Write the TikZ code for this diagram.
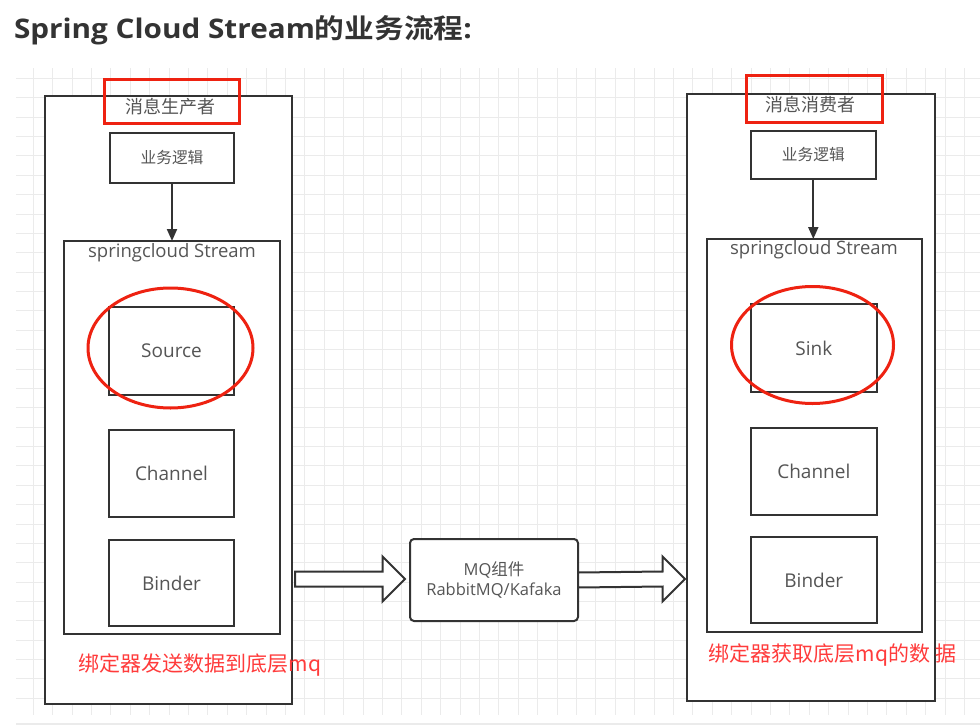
\documentclass[tikz,border=0pt]{standalone}
\usepackage{fontspec}
\setmainfont{Open Sans}
\newfontfamily\cjk{Noto Sans CJK SC}
\newfontfamily\titlefont[FakeStretch=1.1]{Open Sans Bold}
\newfontfamily\titlecjk[FakeStretch=1.1]{Noto Sans CJK SC Bold}
\usetikzlibrary{shapes.geometric,calc,arrows.meta}
\definecolor{lc}{HTML}{333333}
\definecolor{tc}{HTML}{555555}
\definecolor{rbox}{HTML}{EE2211}
\definecolor{rtxt}{HTML}{FF3B3B}
\definecolor{gridc}{HTML}{EBEBEB}
\definecolor{titlec}{HTML}{333333}
\newcommand\blockarr[2]{%
  \draw[line width=2pt, draw=lc, fill=white, line join=miter]
    ($(#1)+(0,-7.5)$) -- ($(#2)+(-22.5,-7.5)$) -- ($(#2)+(-22.5,-22.5)$) -- (#2)
    -- ($(#2)+(-22.5,22.5)$) -- ($(#2)+(-22.5,7.5)$) -- ($(#1)+(0,7.5)$) -- cycle;}
\begin{document}
\begin{tikzpicture}[x=1pt,y=-1pt,
  every node/.style={inner sep=0pt,outer sep=0pt},
  box/.style={draw=lc,line width=2pt,fill=white},
  redbox/.style={draw=rbox,line width=3pt},
  redell/.style={draw=rbox,line width=3pt,ellipse},
  lbl/.style={text=tc},
  big/.style={font=\fontsize{19}{22}\selectfont},
  rlbl/.style={text=rtxt,font=\cjk\fontsize{21}{24}\selectfont},
  arr/.style={draw=lc,line width=2pt,-{Triangle[length=12pt,width=10pt]}}]
\useasboundingbox (0,0) rectangle (980,728);
\fill[white] (0,0) rectangle (980,728);
% grid
\begin{scope}
\clip (16,68) rectangle (980,715);
\foreach \k in {0,...,49} \draw[gridc,line width=1pt] ({33.3+\k*19.4},68) -- ({33.3+\k*19.4},715);
\foreach \k in {-1,...,33} \draw[gridc,line width=1pt] (16,{78.5+\k*19.37}) -- (980,{78.5+\k*19.37});
\end{scope}
\fill[gridc] (16,723) rectangle (980,725);
% title
\node[anchor=base west,text=titlec,font=\titlefont\fontsize{27}{32}\selectfont] (title) at (14,38)
  {Spring Cloud Stream{\titlecjk 的业务流程}:};
% ---------- left (producer) ----------
\node[box,minimum width=247,minimum height=608] (outerL) at (168.5,400) {};
\node[redbox,minimum width=135,minimum height=44] (redL) at (171.5,101) {};
\node[lbl,font=\cjk\fontsize{18}{20}\selectfont] (prodL) at (170,107) {消息生产者};
\node[box,minimum width=124,minimum height=50,lbl,font=\cjk\fontsize{15.7}{18}\selectfont] (logicL) at (172,158) {业务逻辑};
\node[box,minimum width=216,minimum height=393] (streamL) at (172,437.5) {};
\node[lbl,font=\fontsize{18.5}{21}\selectfont] (streamLt) at (172,253) {springcloud Stream};
\node[box,minimum width=125,minimum height=88,lbl,big] (sourceL) at (171.5,351) {Source};
\node[redell,minimum width=165,minimum height=120] (ellL) at (170.5,348) {};
\node[box,minimum width=125,minimum height=87,lbl,big] (channelL) at (171.5,473.5) {Channel};
\node[box,minimum width=125,minimum height=86,lbl,big] (binderL) at (171.5,583) {Binder};
\node[rlbl] (noteL) at (200,665) {绑定器发送数据到底层mq};
\draw[arr] (logicL.south) -- (streamL.north -| logicL.south);
% ---------- middle ----------
\node[box,rounded corners=4pt,minimum width=168,minimum height=82,lbl,align=center,
  font=\fontsize{16.5}{20.5}\selectfont] (mq) at (494,580) {MQ{\cjk 组件}\\RabbitMQ/Kafaka};
\coordinate (t1) at (295,579);
\coordinate (h1) at (405,579);
\coordinate (h2) at (685,579);
\blockarr{t1}{h1}
\blockarr{mq.east}{h2}
% ---------- right (consumer) ----------
\node[box,minimum width=248,minimum height=607] (outerR) at (810.8,397.5) {};
\node[redbox,minimum width=135.6,minimum height=47] (redR) at (814.5,98.5) {};
\node[lbl,font=\cjk\fontsize{18}{20}\selectfont] (consR) at (810,105) {消息消费者};
\node[box,minimum width=125,minimum height=48,lbl,font=\cjk\fontsize{15.7}{18}\selectfont] (logicR) at (813.3,155) {业务逻辑};
\node[box,minimum width=215,minimum height=393] (streamR) at (814,435.5) {};
\node[lbl,font=\fontsize{18.5}{21}\selectfont] (streamRt) at (814,250) {springcloud Stream};
\node[box,minimum width=125.7,minimum height=88,lbl,big] (sinkR) at (813.8,348) {Sink};
\node[redell,minimum width=162,minimum height=117] (ellR) at (812.5,345) {};
\node[box,minimum width=125.7,minimum height=87,lbl,big] (channelR) at (813.8,471.4) {Channel};
\node[box,minimum width=125.7,minimum height=86.7,lbl,big] (binderR) at (813.8,580) {Binder};
\node[rlbl] (noteR) at (832.5,655) {绑定器获取底层mq的数 据};
\draw[arr] (logicR.south) -- (streamR.north -| logicR.south);
\end{tikzpicture}
\end{document}
